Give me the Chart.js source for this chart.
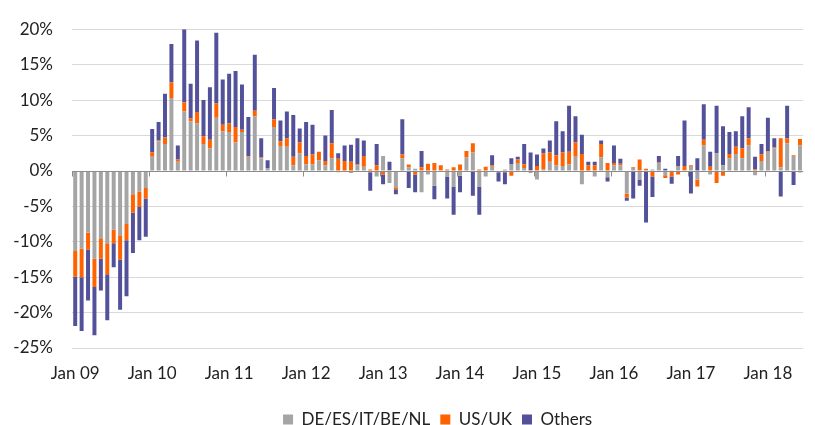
<!DOCTYPE html>
<html>
<head>
<meta charset="utf-8">
<script src="https://cdn.jsdelivr.net/npm/chart.js@4/dist/chart.umd.min.js"></script>
<style>
  html, body { margin: 0; padding: 0; background: #fff; }
</style>
</head>
<body>
<canvas id="chart" width="815" height="425"></canvas>
<script>
// monthly categories, Jan 09 .. Jun 18
const firstYear = 2009;
const monthNames = ["Jan", "Feb", "Mar", "Apr", "May", "Jun", "Jul", "Aug", "Sep", "Oct", "Nov", "Dec"];
const months = [];
for (let i = 0; i < 114; i++) {
    const yy = String((firstYear + Math.floor(i / 12)) % 100).padStart(2, "0");
    months.push(monthNames[i % 12] + " " + yy);
}

// % contributions
const core = [
    -11.3, -11.0, -8.7, -12.4, -9.5, -10.2, -8.3, -9.1, -7.5, -3.3, -2.9, -2.4,
    2.0, 4.2, 3.8, 10.3, 1.3, 8.4, 7.0, 6.7, 3.8, 3.2, 7.5, 5.6,
    5.5, 4.0, 5.5, 2.0, 7.7, 1.8, 0.4, 6.2, 3.5, 3.4, 0.8, 2.5,
    0.9, 0.9, 1.5, 0.8, 1.8, -0.2, -0.1, -0.3, 0.8, 0.6, -0.2, -0.8,
    2.1, -1.7, -2.3, 1.8, 0.5, 0.3, -3.0, -0.5, -2.1, 0.1, -0.8, -2.2,
    -0.7, 1.9, 2.6, -2.2, -0.8, 0.6, -0.2, 0.2, 0.9, 1.1, 0.4, -0.3,
    -1.2, 0.2, 1.3, 0.8, 0.7, 0.9, 2.0, -1.9, 0.0, -0.8, 1.9, -0.9,
    0.8, 0.8, -3.2, 0.4, -1.2, 0.1, 0.2, 1.1, -0.6, 0.1, 0.7, 0.1,
    0.6, -1.2, 3.6, -0.5, 2.5, 0.8, 1.8, 2.4, 1.8, 3.6, -0.6, 1.4,
    2.7, 3.2, 0.5, 3.9, 2.1, 3.6
];
const usuk = [
    -3.6, -4.0, -2.4, -4.0, -2.9, -4.4, -1.9, -3.4, -2.3, -2.6, -2.2, -1.5,
    0.6, 0.1, 0.9, 2.2, 0.3, 1.3, 0.4, 1.6, 1.1, 1.2, 2.0, 0.9,
    1.2, 2.2, 0.3, 0.1, 0.8, 0.1, 0.0, 1.1, 0.7, 1.2, 1.2, 1.5,
    1.2, 1.4, 1.2, 0.6, 2.1, 1.7, 1.4, 1.3, 0.1, 1.5, 0.2, 0.8,
    -0.5, 0.1, -0.3, 0.5, 0.4, -0.5, 0.5, 1.0, 1.1, 0.7, 0.2, 0.5,
    0.9, 0.9, 1.3, 0.2, 0.6, 0.2, 0.0, -0.2, -0.7, 0.5, 0.5, 0.1,
    0.7, 2.3, 1.3, 1.4, 1.9, 1.8, 2.0, 2.4, 0.8, 0.8, 1.9, 1.1,
    0.3, 0.2, -0.6, 0.1, 1.6, 0.2, -0.8, 0.1, -0.4, -0.8, -0.5, 0.6,
    0.2, -1.0, 0.8, 0.6, -1.7, -0.7, 0.6, 1.0, 1.4, 1.0, 0.2, 0.9,
    0.1, 0.1, 4.1, 0.7, 0.1, 0.9
];
const others = [
    -7.0, -7.6, -7.2, -6.8, -4.5, -6.5, -3.4, -7.1, -7.9, -5.7, -4.7, -5.4,
    3.3, 2.6, 6.2, 5.4, 2.0, 10.3, 4.9, 10.1, 5.1, 7.4, 10.0, 6.4,
    7.0, 7.9, 6.4, 5.5, 7.9, 2.7, 1.1, 4.4, 2.9, 3.8, 5.9, 2.0,
    4.8, 4.2, 0.0, 3.6, 4.7, 0.8, 2.2, 2.4, 3.7, 2.2, -2.6, 3.0,
    -1.4, 1.2, -0.7, 5.0, -2.4, -2.5, 2.3, 0.0, -1.9, 0.0, -3.1, -4.0,
    -2.3, 0.0, -3.5, -4.0, 0.0, 1.4, -1.3, -1.7, 0.9, 0.4, 2.9, 2.5,
    1.6, 0.65, 1.7, 4.8, 3.0, 6.5, 3.7, 2.7, 0.5, 0.5, 0.5, -0.6,
    2.5, 0.7, -0.4, -3.9, -0.9, -7.3, -2.9, 0.9, 0.3, -1.0, 1.4, 6.4,
    -3.2, 1.8, 5.0, 2.1, 6.7, 5.5, 3.1, 2.2, 4.5, 4.4, 1.8, 1.5,
    4.7, 1.3, -3.6, 4.6, -2.0, -0.2
];

const seriesNames = ["DE/ES/IT/BE/NL", "US/UK", "Others"];
const seriesColors = ["#a5a5a5", "#ff6200", "#525199"];

const yMin = -25, yMax = 20, yStep = 5;
const textColor = "#222222";
const fontFamily = "Lato, 'Open Sans', sans-serif";

// zero line on top of the bars, with small year ticks on it
const zeroLine = {
    id: "zeroLine",
    afterDatasetsDraw(chart) {
        const { ctx, chartArea, scales } = chart;
        const x = scales.x, y = scales.y;
        const y0 = Math.round(y.getPixelForValue(0)) + 0.5;
        const half = (x.getPixelForValue(1) - x.getPixelForValue(0)) / 2;
        ctx.save();
        ctx.strokeStyle = "#8c8c8c";
        ctx.lineWidth = 1;
        ctx.beginPath();
        ctx.moveTo(chartArea.left, y0);
        ctx.lineTo(chartArea.right, y0);
        for (let i = 0; i < months.length; i += 12) {
            const xt = Math.round(x.getPixelForValue(i) - half) + 0.5;
            ctx.moveTo(xt, y0);
            ctx.lineTo(xt, y0 + 5);
        }
        ctx.stroke();
        ctx.restore();
    }
};

const datasets = [core, usuk, others].map((vals, i) => ({
    label: seriesNames[i],
    data: vals,
    backgroundColor: seriesColors[i],
    borderWidth: 0,
    barPercentage: 0.62,
    categoryPercentage: 1.0
}));

new Chart(document.getElementById("chart"), {
    type: "bar",
    data: { labels: months, datasets: datasets },
    plugins: [zeroLine],
    options: {
        responsive: false,
        animation: false,
        devicePixelRatio: 1,
        layout: { padding: { top: 23, right: 8, bottom: -13, left: 0 } },
        scales: {
            x: {
                stacked: true,
                grid: { display: false, drawTicks: false, tickLength: 0 },
                border: { display: false },
                ticks: {
                    autoSkip: false,
                    maxRotation: 0,
                    minRotation: 0,
                    padding: 15,
                    color: textColor,
                    font: { family: fontFamily, size: 17 },
                    callback: (v, i) => (i % 12 === 0 ? months[i] : "")
                },
                afterFit: (axis) => { axis.height = 53; }
            },
            y: {
                stacked: true,
                min: yMin,
                max: yMax,
                border: { display: false },
                grid: {
                    drawTicks: false,
                    color: (c) => (c.tick && c.tick.value === 0 ? "rgba(0,0,0,0)" : "#d9d9d9")
                },
                ticks: {
                    stepSize: yStep,
                    padding: 19,
                    color: textColor,
                    font: { family: fontFamily, size: 17 },
                    callback: (v) => v + "%"
                },
                afterFit: (axis) => { axis.width = 72; }
            }
        },
        plugins: {
            legend: {
                position: "bottom",
                fullSize: false,
                labels: {
                    boxWidth: 10,
                    boxHeight: 10,
                    padding: 10,
                    color: textColor,
                    font: { family: fontFamily, size: 17 }
                }
            },
            tooltip: { enabled: false }
        }
    }
});
</script>
</body>
</html>
